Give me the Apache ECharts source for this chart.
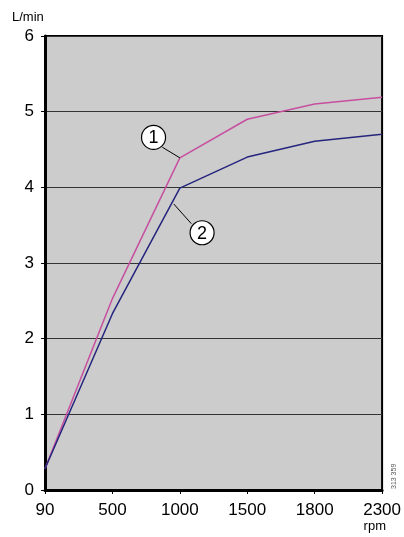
<!DOCTYPE html>
<html><head><meta charset="utf-8">
<script src="https://cdn.jsdelivr.net/npm/echarts@6/dist/echarts.min.js"></script>
<style>html,body{margin:0;padding:0;background:#fff}#c{width:404px;height:537px}</style>
</head><body><div id="c"></div>
<script>
const rpmLabels = ['90', '500', '1000', '1500', '1800', '2300'];
const curve1 = [0.28, 2.53, 4.39, 4.90, 5.10, 5.19];
const curve2 = [0.28, 2.33, 3.99, 4.40, 4.61, 4.70];
// callouts: circle position, leader start and target (category index, value)
const callouts = [
  {text: '1', cx: 1.61, cy: 4.66, tx: 2.0, ty: 4.39, sx: 1.74, sy: 4.53},
  {text: '2', cx: 2.33, cy: 3.40, tx: 1.91, ty: 3.78, sx: 2.17, sy: 3.52}
];
const chart = echarts.init(document.getElementById('c'));
const font = 'Liberation Sans, Arial, sans-serif';
chart.setOption({
  animation: false,
  grid: {left: 45, right: 20, top: 36, bottom: 47, show: true, backgroundColor: '#cccccc', borderColor: '#000', borderWidth: 2},
  xAxis: {
    type: 'category', data: rpmLabels, boundaryGap: false,
    axisLine: {lineStyle: {color: '#000', width: 3}},
    axisTick: {show: true, length: 4, lineStyle: {color: '#000', width: 1}},
    axisLabel: {color: '#000', fontSize: 17, fontFamily: font, margin: 12},
    splitLine: {show: false}
  },
  yAxis: {
    type: 'value', min: 0, max: 6, interval: 1,
    axisLine: {show: true, lineStyle: {color: '#000', width: 3}},
    axisTick: {show: true, length: 4, lineStyle: {color: '#000', width: 1}},
    axisLabel: {color: '#000', fontSize: 17, fontFamily: font, margin: 11},
    splitLine: {show: true, lineStyle: {color: '#333', width: 1}}
  },
  series: [
    {type: 'line', data: curve1, symbol: 'none', lineStyle: {color: '#c74f9f', width: 1.5}},
    {type: 'line', data: curve2, symbol: 'none', lineStyle: {color: '#25257e', width: 1.5}}
  ]
});
function px(xi, y) {
  const p0 = chart.convertToPixel({gridIndex: 0}, [0, y]);
  const p1 = chart.convertToPixel({gridIndex: 0}, [1, y]);
  return [p0[0] + (p1[0] - p0[0]) * xi, p0[1]];
}
const g = [
  {type: 'text', left: 12, top: 11, style: {text: 'L/min', fill: '#000', font: '13px ' + font}},
  {type: 'text', right: 18, top: 520, style: {text: 'rpm', fill: '#000', font: '13px ' + font}},
  {type: 'text', x: 391, y: 489, rotation: Math.PI / 2, style: {text: '313 359', fill: '#555', font: '7px ' + font}}
];
callouts.forEach(c => {
  const cp = px(c.cx, c.cy), tp = px(c.tx, c.ty), sp = px(c.sx, c.sy);
  g.push({type: 'line', shape: {x1: sp[0], y1: sp[1], x2: tp[0], y2: tp[1]}, style: {stroke: '#000', lineWidth: 1}, z: 10});
  g.push({type: 'circle', shape: {cx: cp[0], cy: cp[1], r: 12}, style: {fill: '#fff', stroke: '#000', lineWidth: 1.2}, z: 11});
  g.push({type: 'text', x: cp[0], y: cp[1] + 1, style: {text: c.text, fill: '#000', font: '18px ' + font, align: 'center', verticalAlign: 'middle'}, z: 12});
});
chart.setOption({graphic: g});
</script></body></html>
